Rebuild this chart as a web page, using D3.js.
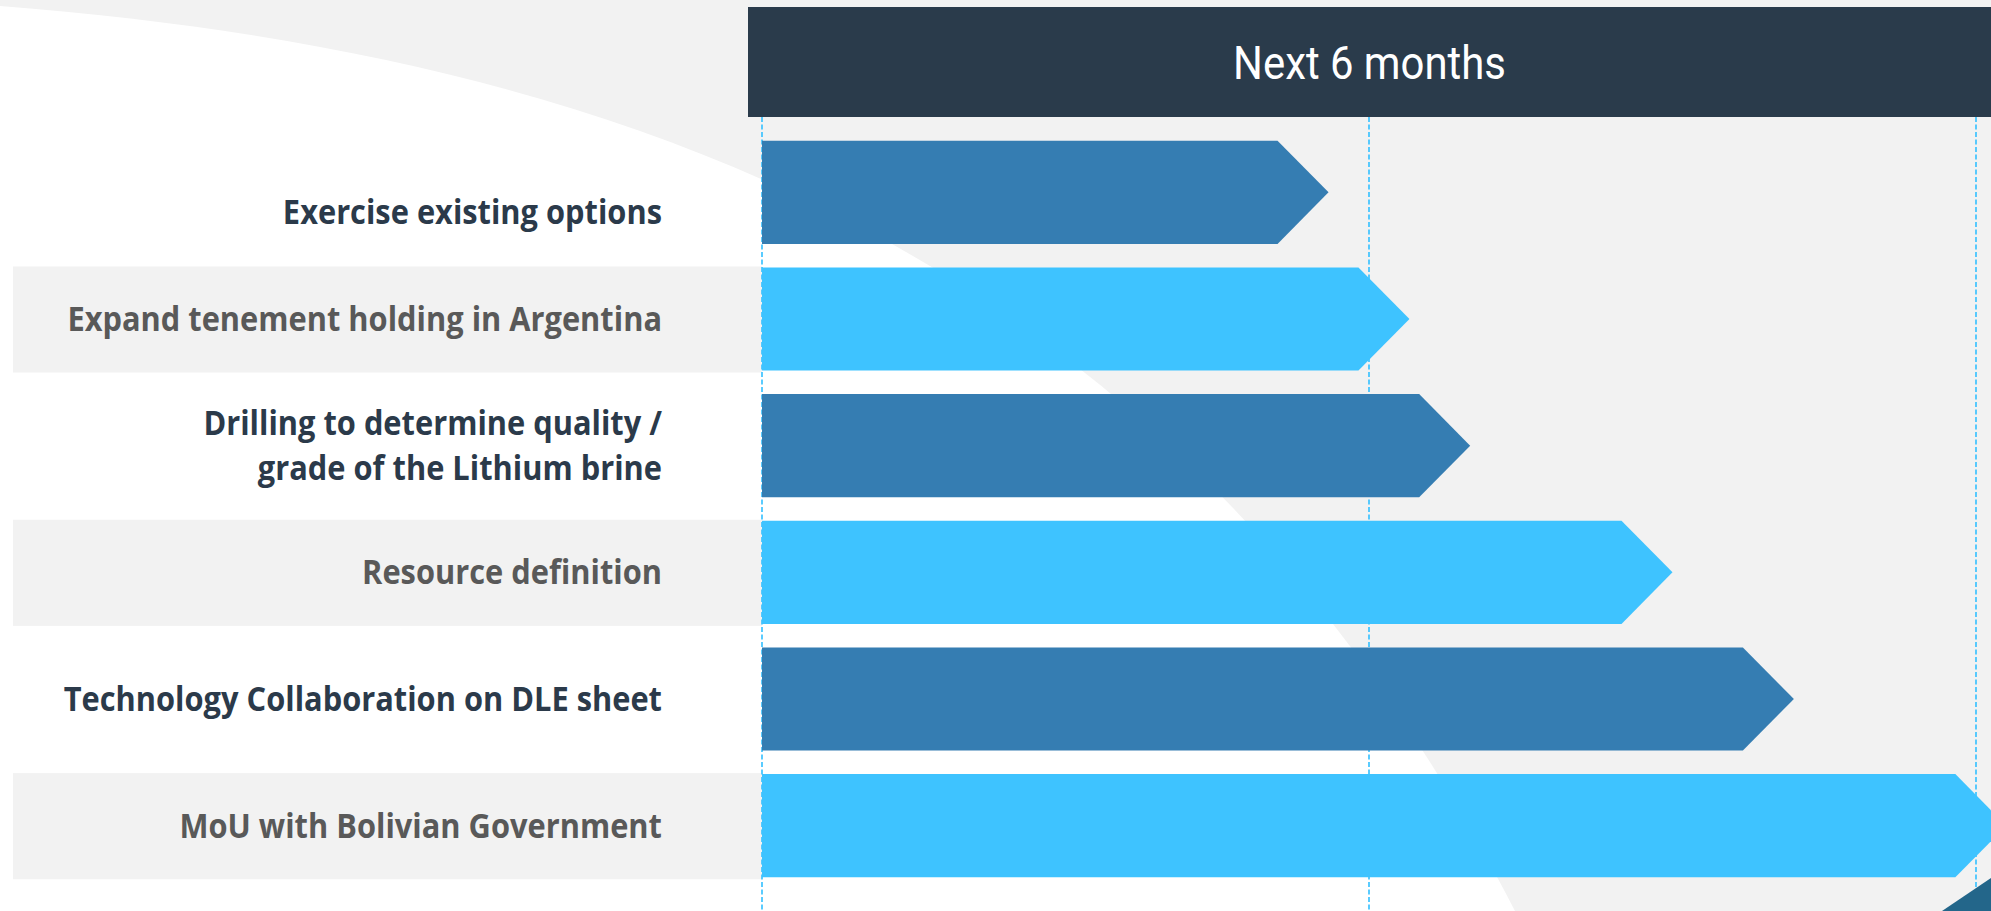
<html>
  <head>
    <style>
      body {
        margin: 0;
        background: #f2f2f2;
      }
      .label {
        font-family: "Open Sans", "Noto Sans", sans-serif;
        font-weight: 700;
        font-size: 33.5px;
      }
      .header-text {
        font-family: Roboto, "Noto Sans", sans-serif;
        font-weight: 400;
        font-size: 46px;
        fill: #fff;
      }
    </style>
  </head>
  <body>
    <script src="https://d3js.org/d3.v7.min.js"></script>
    <script>
      var width = 1991, height = 911;

      // data
      var tasks = [
        "Exercise existing options",
        "Expand tenement holding in Argentina",
        "Drilling to determine quality /\ngrade of the Lithium brine",
        "Resource definition",
        "Technology Collaboration on DLE sheet",
        "MoU with Bolivian Government"
      ];
      var months = [2.8, 3.2, 3.5, 4.5, 5.1, 6.15];   // where each arrow ends
      var tickMonths = [0, 3, 6];
      var headerTitle = "Next 6 months";

      var darkBar = "#357db2", lightBar = "#3ec3ff",
          darkText = "#2b3a4a", greyText = "#595959";

      var svg = d3.select("body").append("svg")
          .attr("width", width)
          .attr("height", height);

      var x = d3.scaleLinear().domain([0, 6]).range([762, 1976]);
      var y = d3.scaleBand()
          .domain(tasks)
          .range([129, 889])
          .paddingInner(0.186)
          .paddingOuter(0.093);

      // background swoosh
      svg.append("rect")
          .attr("width", width)
          .attr("height", height)
          .attr("fill", "#f2f2f2");

      svg.append("path")
          .attr("d", "M0,6 C700,60 1200,300 1515,911 L0,911 Z")
          .attr("fill", "#fff");

      // grey label bands on every other row
      svg.append("g")
          .selectAll("rect")
          .data(tasks.filter(function(d, i){ return i % 2 == 1; }))
        .enter().append("rect")
          .attr("x", 13)
          .attr("y", function(d){ return y(d) - 1; })
          .attr("width", x(0) - 13)
          .attr("height", y.bandwidth() + 3)
          .attr("fill", "#f2f2f2");

      // dashed month lines
      svg.append("g")
          .selectAll("line")
          .data(tickMonths)
        .enter().append("line")
          .attr("x1", function(d){ return x(d); })
          .attr("x2", function(d){ return x(d); })
          .attr("y1", 117)
          .attr("y2", height)
          .attr("stroke", "#3ec3ff")
          .attr("stroke-width", 1.7)
          .attr("stroke-dasharray", "5,2.5");

      // header
      svg.append("rect")
          .attr("x", x(0) - 14)
          .attr("y", 7)
          .attr("width", width - x(0) + 14)
          .attr("height", 110)
          .attr("fill", "#2a3b4b");

      var hx = (x(0) - 14 + width) / 2;
      svg.append("text")
          .attr("class", "header-text")
          .attr("transform", "translate(" + hx + ",79) scale(0.91,1)")
          .attr("text-anchor", "middle")
          .text(headerTitle);

      // arrows
      var tip = 51;
      svg.append("g")
          .selectAll("path")
          .data(tasks)
        .enter().append("path")
          .attr("d", function(d, i){
            var x0 = x(0), x1 = x(months[i]),
                y0 = y(d), y1 = y(d) + y.bandwidth(), yc = (y0 + y1) / 2;
            return "M" + x0 + "," + y0 +
                   "L" + (x1 - tip) + "," + y0 +
                   "L" + x1 + "," + yc +
                   "L" + (x1 - tip) + "," + y1 +
                   "L" + x0 + "," + y1 + "Z";
          })
          .attr("fill", function(d, i){ return i % 2 == 0 ? darkBar : lightBar; });

      // labels
      var label = svg.append("g")
          .selectAll("g")
          .data(tasks)
        .enter().append("g")
          .attr("transform", function(d, i){
            var cy = y(d) + y.bandwidth() / 2 + (i == 0 ? 19.5 : 0);
            return "translate(662," + cy + ") scale(0.92,1)";
          });

      label.append("text")
          .attr("class", "label")
          .attr("text-anchor", "end")
          .attr("fill", function(d, i){ return i % 2 == 0 ? darkText : greyText; })
          .each(function(d){
            var lines = d.split("\n"), t = d3.select(this);
            lines.forEach(function(line, k){
              t.append("tspan")
                  .attr("x", 0)
                  .attr("y", 12 + (k - (lines.length - 1) / 2) * 45)
                  .text(line);
            });
          });

      // corner triangle
      svg.append("path")
          .attr("d", "M1942," + height + "L" + width + ",878L" + width + "," + height + "Z")
          .attr("fill", "#23668a");
    </script>
  </body>
</html>
